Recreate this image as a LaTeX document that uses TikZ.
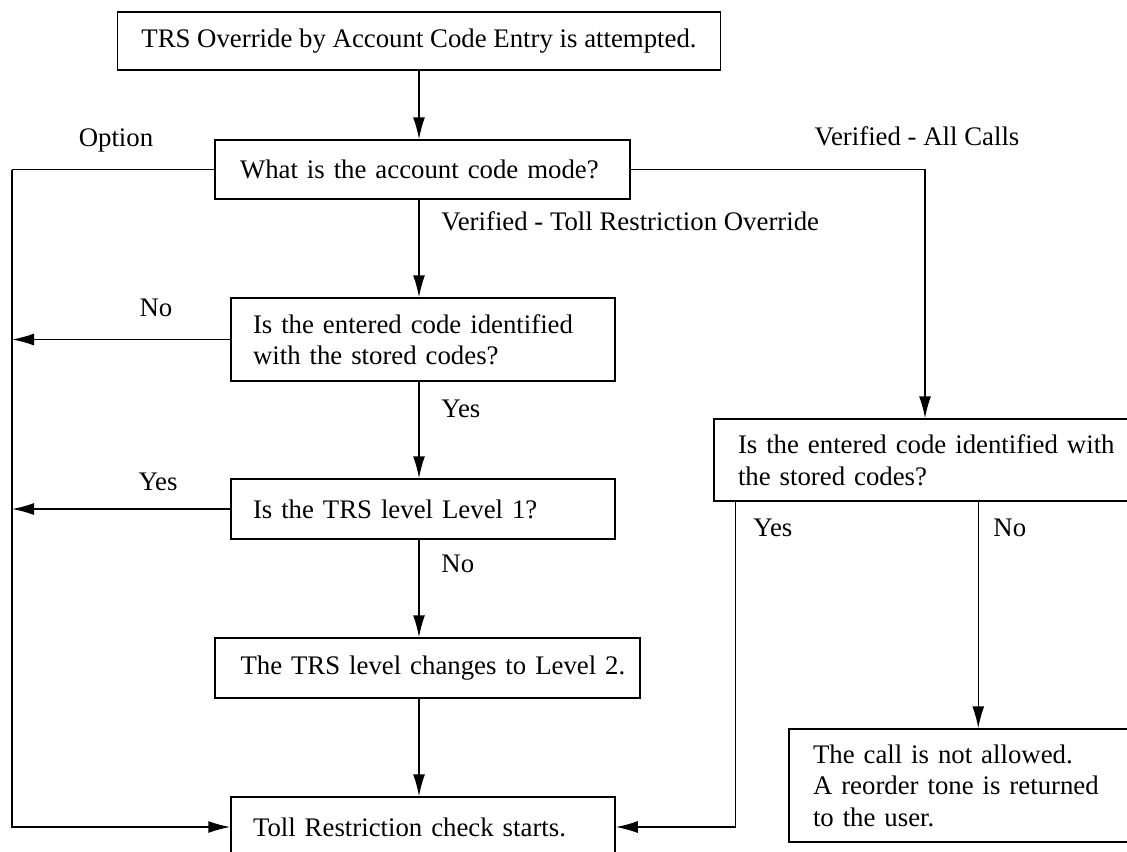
\documentclass[tikz,border=0pt]{standalone}
\usepackage{fontspec}
\setmainfont{Liberation Serif}
\usetikzlibrary{arrows.meta,positioning}

\begin{document}
\begin{tikzpicture}[
    x=0.5pt, y=-0.5pt,
    font=\fontsize{13.4}{15.75}\selectfont,
    stepbox/.style={rectangle, draw, line width=0.75pt, align=left,
                    inner ysep=0pt, inner xsep=#1},
    stepbox/.default=11pt,
    label/.style={inner sep=0pt},
    arrow/.style={-{Latex[length=11pt,width=6pt]}, line width=0.75pt},
    wire/.style={line width=0.75pt}
]
\useasboundingbox (0,0) rectangle (1127,851);
\clip (0,0) rectangle (1127,851);

% Main column
\node[stepbox, minimum width=301.5pt, minimum height=29pt, align=center] (start) at (419,41) {TRS Override by Account Code Entry is attempted.};
\node[stepbox=12.5pt, text width=182.5pt, minimum height=29.5pt] (mode) at (422.5,169.5) {What is the account code mode?};
\node[stepbox, text width=170pt, minimum height=41.5pt] (ident) at (423,339.5) {Is the entered code identified\\with the stored codes?};
\node[stepbox, text width=170pt, minimum height=30pt] (level1) at (423,509) {Is the TRS level Level 1?};
\node[stepbox=12.75pt, text width=187pt, minimum height=30pt] (level2) at (427.5,668) {\mbox{The TRS level changes to Level 2.}};
\node[stepbox, text width=170pt, minimum height=30pt] (tollcheck) at (423,827) {Toll Restriction check starts.};

% Right column
\node[stepbox=12pt, text width=189pt, minimum height=41pt] (allident) at (927,460) {Is the entered code identified with\\the stored codes?};
\node[stepbox=12pt, text width=152pt, minimum height=56.5pt] (reject) at (965,785.5) {The call is not allowed.\\A reorder tone is returned\\to the user.};

% Labels
\node[label] (optlbl) at (116,140) {Option};
\node[label] (alllbl) at (917,136) {Verified - All Calls};
\node[label, anchor=west] (trolbl) at (441,221) {Verified - Toll Restriction Override};
\node[label] (no1) at (156,308) {No};
\node[label, anchor=west] (yes1) at (441,409) {Yes};
\node[label] (yes2) at (158,482) {Yes};
\node[label, anchor=west] (no2) at (441,564) {No};
\node[label, anchor=west] (yes3) at (753,528) {Yes};
\node[label, anchor=west] (no3) at (993,528) {No};

% Bus coordinates
\coordinate (lbus) at (12,169.5);
\coordinate (rbus) at (925,169.5);

% Vertical flow
\draw[arrow] (419,70) coordinate (s0) -- (s0 |- mode.north);
\draw[arrow] (s0 |- mode.south) -- (s0 |- ident.north);
\draw[arrow] (s0 |- ident.south) -- (s0 |- level1.north);
\draw[arrow] (s0 |- level1.south) -- (s0 |- level2.north);
\draw[arrow] (s0 |- level2.south) -- (s0 |- tollcheck.north);

% Option branch
\draw[wire] (mode.west) -- (lbus);
\draw[arrow] (lbus) |- (tollcheck.west);
\draw[arrow] (ident.west) -- (ident.west -| lbus);
\draw[arrow] (level1.west) -- (level1.west -| lbus);

% All calls branch
\draw[arrow] (mode.east) -- (rbus) -- (rbus |- allident.north);
\draw[arrow] ([xshift=11pt]allident.south west) |- (tollcheck.east);
\draw[arrow] ([xshift=132.5pt]allident.south west) -- ([xshift=132.5pt]allident.south west |- reject.north);

\end{tikzpicture}
\end{document}
